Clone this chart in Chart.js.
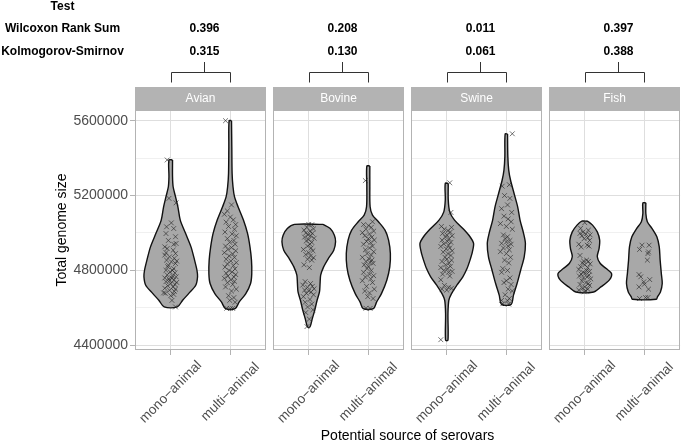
<!DOCTYPE html>
<html><head><meta charset="utf-8">
<script src="https://cdn.jsdelivr.net/npm/chart.js"></script>
<style>html,body{margin:0;padding:0;background:#fff;}canvas{display:block;}</style>
</head><body>
<canvas id="c" width="685" height="443" style="width:685px;height:443px"></canvas>
<script>
// ---------------- data ----------------
const groups = ['Avian', 'Bovine', 'Swine', 'Fish'];
const sources = ['mono\u2212animal', 'multi\u2212animal'];
const tableHeader = 'Test';
const testNames = ['Wilcoxon Rank Sum', 'Kolmogorov-Smirnov'];
const wilcoxonP = ['0.396', '0.208', '0.011', '0.397'];
const ksP = ['0.315', '0.130', '0.061', '0.388'];
const yTicks = [4400000, 4600000, 4800000, 5000000, 5200000, 5400000, 5600000];
const yMajorTicks = [4400000, 4800000, 5200000, 5600000];
const yTickLabels = ['4400000', '4800000', '5200000', '5600000'];

// violin outlines: [genome size, half width (category units)], top to bottom
const avianMonoViolin = [[5390000,0.03],[5301000,0.03],[5247000,0.04],[5194000,0.08],[5140000,0.12],[5069000,0.16],[4997000,0.25],[4926000,0.34],[4855000,0.40],[4801000,0.44],[4766000,0.45],[4721000,0.42],[4676000,0.30],[4641000,0.20],[4605000,0.11]];
const avianMultiViolin = [[5600000,0.02],[5461000,0.025],[5318000,0.03],[5247000,0.045],[5194000,0.07],[5140000,0.13],[5069000,0.22],[4997000,0.29],[4926000,0.33],[4855000,0.355],[4783000,0.36],[4730000,0.34],[4676000,0.26],[4632000,0.15],[4596000,0.08]];
const bovineMonoViolin = [[5046000,0.24],[5024000,0.36],[4988000,0.43],[4953000,0.45],[4908000,0.42],[4864000,0.33],[4819000,0.25],[4775000,0.20],[4730000,0.19],[4685000,0.18],[4641000,0.14],[4587000,0.10],[4543000,0.06],[4498000,0.02]];
const bovineMultiViolin = [[5358000,0.025],[5247000,0.025],[5140000,0.03],[5095000,0.07],[5060000,0.17],[5015000,0.28],[4962000,0.34],[4890000,0.37],[4819000,0.36],[4748000,0.31],[4676000,0.22],[4632000,0.14],[4596000,0.085]];
const swineMonoViolin = [[5265000,0.025],[5176000,0.025],[5113000,0.05],[5069000,0.13],[5024000,0.27],[4980000,0.39],[4944000,0.45],[4899000,0.43],[4855000,0.39],[4810000,0.34],[4766000,0.27],[4721000,0.17],[4676000,0.08],[4641000,0.035],[4569000,0.02],[4427000,0.02]];
const swineMultiViolin = [[5529000,0.02],[5408000,0.025],[5336000,0.04],[5283000,0.07],[5211000,0.13],[5140000,0.19],[5069000,0.23],[4997000,0.29],[4944000,0.32],[4873000,0.30],[4801000,0.24],[4730000,0.18],[4668000,0.12],[4619000,0.08]];
const fishMonoViolin = [[5063000,0.05],[5042000,0.13],[5006000,0.21],[4962000,0.25],[4917000,0.24],[4873000,0.21],[4837000,0.26],[4810000,0.36],[4783000,0.45],[4748000,0.41],[4712000,0.27],[4685000,0.15]];
const fishMultiViolin = [[5161000,0.025],[5104000,0.025],[5060000,0.05],[5024000,0.13],[4980000,0.21],[4926000,0.25],[4855000,0.265],[4783000,0.285],[4730000,0.30],[4685000,0.27],[4659000,0.22],[4646000,0.20]];

// jittered observations: [jitter offset, genome size]
const avianMonoPoints = [[-0.06,5390000],[-0.03,5185000],[0.09,5161000],[0.01,5054000],[-0.07,5033000],[0.05,5024000],[-0.08,4997000],[0.08,4980000],[0.09,4944000],[-0.1,4926000],[-0.06,4917000],[0.04,4908000],[0.08,4890000],[-0.1,4882000],[-0.02,4873000],[-0.07,4855000],[0.01,4846000],[0.08,4837000],[-0.04,4828000],[0.05,4810000],[-0.08,4801000],[-0.01,4792000],[0.07,4787000],[-0.06,4776000],[0.03,4770000],[0.09,4766000],[-0.1,4760000],[-0.03,4755000],[0.05,4748000],[-0.08,4740000],[0.1,4736000],[0.0,4730000],[0.07,4725000],[-0.05,4718000],[0.04,4712000],[-0.1,4705000],[0.08,4700000],[-0.02,4694000],[0.06,4688000],[-0.12,4680000],[-0.09,4678000],[0.05,4672000],[0.0,4665000],[0.02,4640000],[0.08,4605000],[-0.04,4960000],[0.06,4865000],[-0.05,4820000],[0.02,4760000],[-0.02,4745000],[0.03,4800000],[0.1,4850000],[-0.08,4895000],[0.05,4940000]];
const avianMultiPoints = [[-0.08,5600000],[0.02,5150000],[-0.05,5118000],[-0.1,5100000],[0.0,5085000],[0.05,5070000],[-0.07,5058000],[0.09,5045000],[-0.03,5035000],[0.07,5020000],[-0.09,5005000],[0.03,4995000],[0.1,4985000],[-0.05,4970000],[0.06,4960000],[-0.01,4950000],[0.08,4940000],[-0.08,4930000],[0.02,4922000],[-0.04,4912000],[0.09,4905000],[-0.1,4895000],[0.04,4888000],[-0.02,4878000],[0.07,4870000],[-0.07,4860000],[0.01,4850000],[0.1,4842000],[-0.05,4835000],[0.05,4826000],[-0.09,4818000],[0.08,4808000],[-0.02,4800000],[0.03,4792000],[-0.07,4785000],[0.09,4778000],[-0.04,4770000],[0.06,4765000],[-0.1,4758000],[0.01,4750000],[0.07,4742000],[-0.05,4735000],[0.04,4725000],[-0.08,4712000],[0.1,4700000],[0.02,4690000],[-0.03,4665000],[0.06,4655000],[-0.01,4640000],[0.08,4630000],[-0.06,4598000],[0.0,4596000],[0.04,4597000]];
const bovineMonoPoints = [[0.0,5046000],[0.05,5044000],[-0.03,5030000],[0.08,5022000],[-0.08,5015000],[0.02,5010000],[-0.05,5000000],[0.06,4998000],[-0.01,4990000],[0.03,4985000],[-0.07,4978000],[0.09,4972000],[0.0,4965000],[-0.04,4958000],[0.05,4950000],[0.02,4940000],[-0.02,4930000],[0.04,4920000],[-0.09,4912000],[0.07,4905000],[0.0,4895000],[-0.05,4885000],[0.03,4877000],[0.08,4868000],[-0.02,4860000],[0.05,4855000],[-0.08,4830000],[0.01,4815000],[-0.06,4740000],[0.03,4730000],[-0.1,4722000],[0.06,4715000],[-0.02,4710000],[0.09,4702000],[-0.07,4695000],[0.0,4690000],[0.04,4685000],[-0.04,4678000],[0.08,4670000],[-0.09,4660000],[0.02,4645000],[-0.06,4630000],[0.05,4620000],[-0.02,4605000],[0.07,4590000],[-0.05,4575000],[0.01,4540000],[-0.03,4500000]];
const bovineMultiPoints = [[-0.05,5280000],[0.07,5060000],[-0.08,5045000],[0.0,5040000],[0.05,5030000],[-0.04,5020000],[0.09,5010000],[-0.1,5002000],[0.02,4995000],[-0.06,4985000],[0.06,4978000],[0.0,4970000],[0.1,4962000],[-0.03,4955000],[0.04,4948000],[-0.08,4940000],[0.07,4930000],[0.02,4920000],[-0.05,4910000],[0.09,4900000],[-0.02,4890000],[0.05,4882000],[-0.1,4870000],[0.01,4862000],[0.06,4855000],[-0.04,4848000],[0.03,4842000],[0.08,4838000],[-0.07,4830000],[0.0,4822000],[-0.02,4810000],[0.05,4800000],[-0.08,4790000],[0.02,4780000],[0.09,4772000],[-0.05,4765000],[0.04,4755000],[-0.1,4745000],[0.07,4735000],[-0.03,4715000],[0.1,4700000],[-0.06,4690000],[0.02,4680000],[-0.01,4660000],[0.08,4650000],[-0.04,4598000],[0.03,4597000]];
const swineMonoPoints = [[0.05,5268000],[0.07,5110000],[-0.09,5035000],[0.08,5030000],[-0.04,5020000],[0.02,5012000],[0.06,5005000],[-0.07,4998000],[0.0,4990000],[0.09,4985000],[-0.02,4978000],[0.04,4970000],[-0.08,4962000],[0.01,4955000],[0.07,4950000],[-0.05,4942000],[0.03,4935000],[-0.1,4928000],[0.05,4920000],[-0.01,4915000],[0.09,4905000],[-0.06,4898000],[0.02,4890000],[0.07,4880000],[-0.03,4870000],[0.0,4860000],[0.08,4855000],[-0.08,4848000],[0.04,4840000],[-0.02,4830000],[0.06,4822000],[-0.1,4815000],[0.01,4808000],[-0.05,4800000],[0.09,4795000],[0.03,4790000],[-0.07,4780000],[0.05,4770000],[-0.1,4750000],[-0.04,4720000],[0.03,4710000],[0.08,4705000],[-0.08,4700000],[0.0,4695000],[-0.1,4430000]];
const swineMultiPoints = [[0.1,5530000],[-0.07,5250000],[0.05,5258000],[-0.03,5200000],[0.06,5185000],[0.02,5150000],[-0.08,5130000],[0.09,5110000],[-0.04,5090000],[0.03,5075000],[0.08,5060000],[-0.1,5050000],[0.0,5035000],[0.1,5020000],[-0.05,4990000],[0.02,4980000],[-0.02,4970000],[0.06,4960000],[0.0,4952000],[-0.08,4945000],[0.08,4940000],[0.03,4930000],[-0.05,4920000],[0.05,4910000],[-0.1,4900000],[0.0,4890000],[0.07,4870000],[-0.03,4855000],[0.04,4840000],[-0.06,4810000],[0.02,4800000],[-0.08,4790000],[0.06,4760000],[0.0,4745000],[-0.04,4735000],[0.08,4725000],[0.03,4700000],[0.1,4690000],[-0.02,4670000],[0.05,4650000],[-0.08,4640000],[0.02,4638000],[-0.06,4622000],[0.04,4620000]];
const fishMonoPoints = [[0.0,5055000],[-0.07,5025000],[0.06,5015000],[-0.03,5005000],[-0.08,4998000],[0.02,4995000],[0.09,4990000],[-0.05,4985000],[0.05,4975000],[-0.01,4970000],[0.08,4960000],[-0.1,4940000],[0.04,4935000],[0.07,4930000],[-0.06,4925000],[-0.08,4880000],[0.03,4855000],[-0.02,4850000],[0.06,4848000],[-0.04,4840000],[0.09,4835000],[0.0,4830000],[-0.07,4820000],[0.05,4815000],[-0.1,4805000],[0.03,4800000],[0.08,4795000],[-0.03,4790000],[0.01,4785000],[-0.06,4780000],[0.07,4775000],[-0.09,4770000],[0.04,4765000],[-0.02,4760000],[0.1,4755000],[-0.05,4745000],[0.02,4735000],[0.06,4730000],[-0.08,4725000],[0.08,4720000],[0.0,4712000],[-0.04,4705000],[0.05,4700000],[-0.1,4695000],[0.02,4690000],[-0.01,4686000]];
const fishMultiPoints = [[-0.08,4912000],[-0.04,4935000],[0.08,4935000],[0.07,4899000],[0.06,4890000],[0.05,4855000],[-0.09,4778000],[-0.06,4766000],[-0.01,4739000],[0.09,4751000],[0.0,4726000],[-0.09,4712000],[0.07,4700000],[-0.08,4650000],[0.02,4655000],[0.06,4655000]];

const violinData = [[avianMonoViolin, avianMultiViolin],[bovineMonoViolin, bovineMultiViolin],[swineMonoViolin, swineMultiViolin],[fishMonoViolin, fishMultiViolin]];
const pointData = [[avianMonoPoints, avianMultiPoints],[bovineMonoPoints, bovineMultiPoints],[swineMonoPoints, swineMultiPoints],[fishMonoPoints, fishMultiPoints]];

// ---------------- layout ----------------
const FONT = "'Liberation Sans', Arial, Helvetica, sans-serif";
const PANEL_W = 2.2;
const PANEL_STEP = 139 / 60;
const CAT_OFFSET = 0.6;
const X_MAX = (groups.length - 1) * PANEL_STEP + PANEL_W;
const catPos = (p, k) => p * PANEL_STEP + CAT_OFFSET + k;
const catPositions = [];
groups.forEach((g, p) => sources.forEach((s, k) => catPositions.push(catPos(p, k))));

const datasets = [];
groups.forEach((g, p) => {
  sources.forEach((s, k) => {
    const c = catPos(p, k);
    const prof = violinData[p][k];
    const right = prof.map(([v, w]) => ({x: c + w, y: v}));
    const left = prof.slice().reverse().map(([v, w]) => ({x: c - w, y: v}));
    const shape = right.concat(left, [right[0]]);
    datasets.push({
      label: g + ' ' + s + ' violin',
      data: shape,
      showLine: true,
      fill: 'shape',
      backgroundColor: '#a8a8a8',
      borderColor: '#111111',
      borderWidth: 1.4,
      pointRadius: 0,
      tension: 0.3,
      order: 2
    });
    datasets.push({
      label: g + ' ' + s + ' points',
      data: pointData[p][k].map(([o, v]) => ({x: c + o, y: v})),
      showLine: false,
      pointStyle: 'crossRot',
      pointRadius: 3.4,
      pointBorderColor: 'rgba(40,40,40,0.72)',
      pointBorderWidth: 0.9,
      order: 1
    });
  });
});

const facetPlugin = {
  id: 'facets',
  beforeDatasetsDraw(chart) {
    const {ctx, chartArea: a, scales: {x}} = chart;
    ctx.save();
    ctx.fillStyle = '#ffffff';
    for (let p = 0; p < groups.length - 1; p++) {
      const g0 = Math.round(x.getPixelForValue(p * PANEL_STEP + PANEL_W));
      const g1 = Math.round(x.getPixelForValue((p + 1) * PANEL_STEP));
      ctx.fillRect(g0, a.top - 1, g1 - g0, a.bottom - a.top + 2);
    }
    ctx.restore();
  },
  afterDatasetsDraw(chart) {
    const {ctx, chartArea: a, scales: {x}} = chart;
    ctx.save();
    ctx.strokeStyle = '#b3b3b3';
    ctx.lineWidth = 1;
    groups.forEach((g, p) => {
      const l = Math.round(x.getPixelForValue(p * PANEL_STEP));
      const r = Math.round(x.getPixelForValue(p * PANEL_STEP + PANEL_W));
      ctx.strokeRect(l + 0.5, Math.round(a.top) + 0.5, r - l - 1, Math.round(a.bottom - a.top) - 1);
    });
    ctx.restore();
  },
  afterDraw(chart) {
    const {ctx, chartArea: a, scales: {x}} = chart;
    ctx.save();
    // strips
    groups.forEach((g, p) => {
      const l = Math.round(x.getPixelForValue(p * PANEL_STEP));
      const r = Math.round(x.getPixelForValue(p * PANEL_STEP + PANEL_W));
      ctx.fillStyle = '#b3b3b3';
      ctx.fillRect(l, a.top - 23, r - l, 23);
      ctx.fillStyle = '#ffffff';
      ctx.font = '12px ' + FONT;
      ctx.textAlign = 'center';
      ctx.textBaseline = 'middle';
      ctx.fillText(g, (l + r) / 2, a.top - 11.5);
    });
    // rotated category labels
    ctx.fillStyle = '#4d4d4d';
    ctx.font = '13.5px ' + FONT;
    groups.forEach((g, p) => sources.forEach((s, k) => {
      const px = x.getPixelForValue(catPos(p, k));
      ctx.save();
      ctx.translate(px, 392);
      ctx.rotate(-Math.PI / 4);
      ctx.textAlign = 'center';
      ctx.textBaseline = 'middle';
      ctx.fillText(s, 0, 0);
      ctx.restore();
    }));
    // brackets
    ctx.strokeStyle = '#333333';
    ctx.lineWidth = 1;
    const centers = [];
    groups.forEach((g, p) => {
      const x1 = Math.round(x.getPixelForValue(catPos(p, 0))) + 0.5;
      const x2 = Math.round(x.getPixelForValue(catPos(p, 1))) + 0.5;
      const cx = Math.round((x1 + x2) / 2 + 2.5) + 0.5;
      centers.push(cx);
      ctx.beginPath();
      ctx.moveTo(cx, 62); ctx.lineTo(cx, 72.5);
      ctx.moveTo(x1, 82.5); ctx.lineTo(x1, 72.5); ctx.lineTo(x2, 72.5); ctx.lineTo(x2, 82.5);
      ctx.stroke();
    });
    // test table
    ctx.fillStyle = '#000000';
    ctx.font = 'bold 12px ' + FONT;
    ctx.textAlign = 'center';
    ctx.textBaseline = 'alphabetic';
    const rowY = [9.5, 32, 54.5];
    ctx.fillText(tableHeader, 62.5, rowY[0]);
    ctx.fillText(testNames[0], 62.5, rowY[1]);
    ctx.fillText(testNames[1], 62.5, rowY[2]);
    centers.forEach((cx, p) => {
      ctx.fillText(wilcoxonP[p], cx, rowY[1]);
      ctx.fillText(ksP[p], cx, rowY[2]);
    });
    ctx.restore();
  }
};

new Chart(document.getElementById('c'), {
  type: 'scatter',
  data: {datasets},
  options: {
    responsive: false,
    animation: false,
    devicePixelRatio: 1,
    events: [],
    layout: {padding: {top: 110, left: 55, right: 1, bottom: 0}},
    plugins: {legend: {display: false}, tooltip: {enabled: false}},
    scales: {
      x: {
        type: 'linear', min: 0, max: X_MAX,
        afterBuildTicks: s => { s.ticks = catPositions.map(v => ({value: v})); },
        afterFit: s => { s.height = 93; },
        ticks: {display: false},
        grid: {color: '#dedede', lineWidth: 1, drawTicks: true, tickLength: 5, tickColor: '#b3b3b3'},
        border: {display: false},
        title: {display: true, text: 'Potential source of serovars', color: '#000000', padding: 0,
                font: {family: FONT, size: 14, lineHeight: 1}}
      },
      y: {
        type: 'linear', min: 4375000, max: 5657000,
        afterBuildTicks: s => { s.ticks = yTicks.map(v => ({value: v})); },
        afterFit: s => { s.width = 80; },
        ticks: {
          autoSkip: false, padding: 2, color: '#4d4d4d',
          font: {family: FONT, size: 14},
          callback: v => { const i = yMajorTicks.indexOf(v); return i >= 0 ? yTickLabels[i] : ''; }
        },
        grid: {
          lineWidth: 1, tickLength: 5,
          color: c => (c.tick && yMajorTicks.indexOf(c.tick.value) >= 0) ? '#dedede' : '#f0f0f0',
          tickColor: c => (c.tick && yMajorTicks.indexOf(c.tick.value) >= 0) ? '#b3b3b3' : 'rgba(0,0,0,0)'
        },
        border: {display: false},
        title: {display: true, text: 'Total genome size', color: '#000000', padding: 0,
                font: {family: FONT, size: 14, lineHeight: 1}}
      }
    }
  },
  plugins: [facetPlugin]
});
</script>
</body></html>
